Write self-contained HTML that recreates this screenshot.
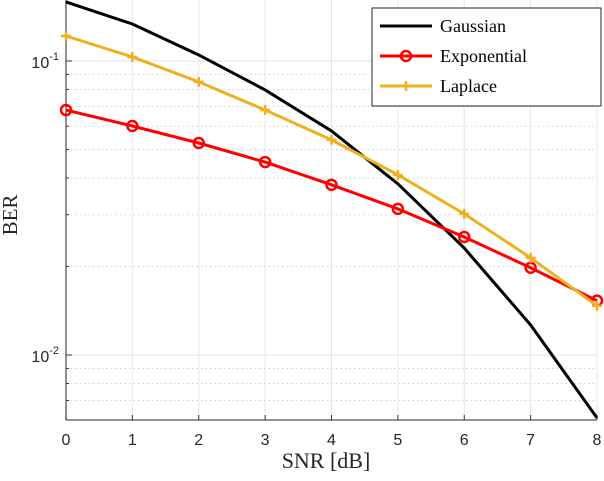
<!DOCTYPE html>
<html><head><meta charset="utf-8"><style>
body{margin:0;background:#fff;width:604px;height:476px;overflow:hidden}
svg text{font-family:"Liberation Sans",sans-serif}
.serif{font-family:"Liberation Serif",serif}
</style></head><body>
<svg id="chart" width="604" height="476" xmlns="http://www.w3.org/2000/svg"></svg>
<script>
const snr=[0,1,2,3,4,5,6,7,8];
const gaussian=[0.1588,0.1336,0.1048,0.0797,0.0578,0.0382,0.0231,0.01265,0.00611];
const exponential=[0.0681,0.0601,0.0526,0.0453,0.0379,0.0314,0.0252,0.0198,0.0153];
const laplace=[0.1216,0.1032,0.0849,0.0681,0.0539,0.0410,0.0302,0.0214,0.0147];
const xTicks=[0,1,2,3,4,5,6,7,8];
const yDecades=[-2,-1];
const L=66,R=597,T=0,B=420;
const yMin=Math.log10(0.00601),yMax=Math.log10(0.1612);
const X=v=>L+(v-0)/(8-0)*(R-L);
const Y=v=>B-(Math.log10(v)-yMin)/(yMax-yMin)*(B-T);
const svg=document.getElementById('chart');const NS='http://www.w3.org/2000/svg';
function el(t,a,p){const e=document.createElementNS(NS,t);for(const k in a)e.setAttribute(k,a[k]);(p||svg).appendChild(e);return e;}
const grid=el('g',{});


xTicks.forEach(t=>{el('line',{x1:X(t),x2:X(t),y1:T,y2:B,stroke:'#e6e6e6','stroke-width':1},grid);});
for(let d=-3;d<=-1;d++){for(let m=1;m<10;m++){const v=m*Math.pow(10,d);if(v<0.00601||v>0.1612)continue;
 const y=Y(v);el('line',{x1:L,x2:R,y1:y,y2:y,stroke:m==1?'#e6e6e6':'#d0d0d0','stroke-width':1,'stroke-dasharray':m==1?'':'1.5,3'},grid);
 el('line',{x1:L,x2:L+(m==1?6:3),y1:y,y2:y,stroke:'#333'},grid);}}
const ax=el('g',{});


el('line',{x1:L,x2:L,y1:T,y2:B,stroke:'#555','stroke-width':1.3},ax);
el('line',{x1:L,x2:R,y1:B,y2:B,stroke:'#555','stroke-width':1.3},ax);
xTicks.forEach(t=>{el('line',{x1:X(t),x2:X(t),y1:B,y2:B-5,stroke:'#333'},ax);
 const tx=el('text',{x:X(t),y:B+25,'font-size':16,'text-anchor':'middle',fill:'#262626'},ax);tx.textContent=t;
 
 });
yDecades.forEach(d=>{const y=Y(Math.pow(10,d));const tx=el('text',{x:L-7,y:y+7,'font-size':16,'text-anchor':'end',fill:'#262626'},ax);
 tx.innerHTML='10<tspan dy="-8" font-size="11">'+d+'</tspan>';
 
 });
const xl=el('text',{x:326,y:468,'font-size':22,'text-anchor':'middle',class:'serif',fill:'#262626'});xl.textContent='SNR [dB]';


const yl=el('text',{x:0,y:0,'font-size':21,'text-anchor':'middle',class:'serif',fill:'#262626',transform:'translate(17,215) rotate(-90)'});yl.textContent='BER';


function series(data,color,name,marker){const g=el('g',{});
 
 
 el('polyline',{points:data.map((v,i)=>X(snr[i])+','+Y(v)).join(' '),fill:'none',stroke:color,'stroke-width':3},g);
 data.forEach((v,i)=>{const x=X(snr[i]),y=Y(v);
  if(marker=='o'){el('circle',{cx:x,cy:y,r:5,fill:'none',stroke:color,'stroke-width':2.5},g);}
  else if(marker=='+'){el('path',{d:`M${x-5},${y}H${x+5}M${x},${y-5}V${y+5}`,stroke:color,'stroke-width':2.5},g);}});}
series(gaussian,'#000','gaussian','');
series(exponential,'#ff0000','exponential','o');
series(laplace,'#edb120','laplace','+');
const lg=el('g',{});


el('rect',{x:372,y:8,width:229,height:98,fill:'#fff',stroke:'#262626','stroke-width':1},lg);
[['Gaussian','#000',''],['Exponential','#ff0000','o'],['Laplace','#edb120','+']].forEach((e,i)=>{const y=26+i*30;
 const g=el('g',{},lg);
 
 
 el('line',{x1:380,x2:432,y1:y,y2:y,stroke:e[1],'stroke-width':3},g);
 if(e[2]=='o')el('circle',{cx:406,cy:y,r:5,fill:'none',stroke:e[1],'stroke-width':2.5},g);
 if(e[2]=='+')el('path',{d:`M401,${y}H411M406,${y-5}V${y+5}`,stroke:e[1],'stroke-width':2.5},g);
 const t=el('text',{x:440,y:y+6,'font-size':18,class:'serif',fill:'#000'},g);t.textContent=e[0];});
</script>
</body></html>
